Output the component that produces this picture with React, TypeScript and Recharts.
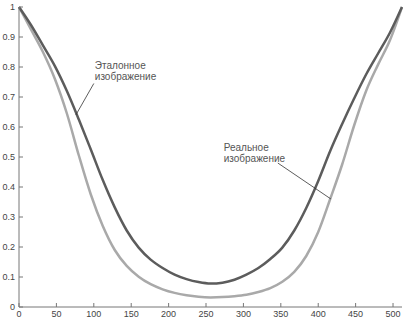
import React from 'react';
import { LineChart, Line, XAxis, YAxis, ReferenceLine, ReferenceDot } from 'recharts';

// pixel position along the line (0..512)
const positions = [
  0, 16, 32, 48, 64, 80, 96, 112, 128, 144, 160, 176, 192, 208, 224, 240, 256,
  272, 288, 304, 320, 336, 352, 368, 384, 400, 416, 432, 448, 464, 480, 496, 512,
];

// "Эталонное изображение" (dark curve)
const referenceCurve = [
  1.0, 0.94, 0.872, 0.803, 0.72, 0.625, 0.525, 0.423, 0.332, 0.255, 0.198, 0.158, 0.13,
  0.108, 0.093, 0.083, 0.078, 0.081, 0.091, 0.108, 0.13, 0.16, 0.198, 0.255, 0.33,
  0.42, 0.52, 0.61, 0.695, 0.775, 0.845, 0.915, 1.0,
];

// "Реальное изображение" (light curve)
const realCurve = [
  1.0, 0.925, 0.85, 0.76, 0.645, 0.505, 0.375, 0.27, 0.19, 0.137, 0.101, 0.076, 0.059,
  0.047, 0.039, 0.034, 0.032, 0.033, 0.036, 0.041, 0.05, 0.063, 0.084, 0.117, 0.17,
  0.25, 0.36, 0.475, 0.605, 0.72, 0.808, 0.89, 1.0,
];

const xTicks = [0, 50, 100, 150, 200, 250, 300, 350, 400, 450, 500];
const yTicks = [0, 0.1, 0.2, 0.3, 0.4, 0.5, 0.6, 0.7, 0.8, 0.9, 1];

const data = positions.map((x, i) => ({ x, ref: referenceCurve[i], real: realCurve[i] }));

const font = '"Liberation Sans", Arial, sans-serif';
const tickStyle = { fontSize: 9, fill: '#444', fontFamily: font };

const NoteLabel = (props: any) => {
  const { viewBox, lines } = props;
  return (
    <text x={viewBox.x} y={viewBox.y} fontSize={10} fill="#555" fontFamily={font}>
      {lines.map((l: string, i: number) => (
        <tspan key={i} x={viewBox.x} dy={i === 0 ? 0 : 11}>
          {l}
        </tspan>
      ))}
    </text>
  );
};

export default function App() {
  return (
    <div style={{ position: 'absolute', left: 0, top: 0, background: '#fff' }}>
      <LineChart width={403} height={326} data={data} margin={{ top: 7, right: 1, bottom: 0, left: 0 }}>
        <XAxis
          dataKey="x"
          type="number"
          domain={[0, 512]}
          ticks={xTicks}
          height={19}
          tickSize={-4}
          tickMargin={8}
          tick={tickStyle}
          stroke="#777"
          interval={0}
        />
        <XAxis
          xAxisId="top"
          orientation="top"
          dataKey="x"
          type="number"
          domain={[0, 512]}
          ticks={xTicks}
          height={0}
          tickSize={-4}
          tickFormatter={() => ''}
          stroke="#777"
          interval={0}
        />
        <YAxis
          type="number"
          domain={[0, 1]}
          ticks={yTicks}
          width={19}
          tickSize={-4}
          tickMargin={8}
          tick={tickStyle}
          stroke="#777"
          interval={0}
        />
        <YAxis
          yAxisId="right"
          orientation="right"
          type="number"
          domain={[0, 1]}
          ticks={yTicks}
          width={0}
          tickSize={-4}
          tickFormatter={() => ''}
          stroke="#777"
          interval={0}
        />
        <Line
          dataKey="real"
          type="monotone"
          stroke="#a9a9a9"
          strokeWidth={2.5}
          dot={false}
          isAnimationActive={false}
        />
        <Line
          dataKey="ref"
          type="monotone"
          stroke="#5c5c5c"
          strokeWidth={2.5}
          dot={false}
          isAnimationActive={false}
        />
        <ReferenceLine segment={[{ x: 100, y: 0.745 }, { x: 76, y: 0.64 }]} stroke="#333" strokeWidth={0.8} />
        <ReferenceLine segment={[{ x: 346, y: 0.48 }, { x: 417, y: 0.36 }]} stroke="#333" strokeWidth={0.8} />
        <ReferenceDot
          x={102.7}
          y={0.79}
          r={1}
          fill="none"
          stroke="none"
          label={<NoteLabel lines={['Эталонное', 'изображение']} />}
        />
        <ReferenceDot
          x={275}
          y={0.517}
          r={1}
          fill="none"
          stroke="none"
          label={<NoteLabel lines={['Реальное', 'изображение']} />}
        />
      </LineChart>
    </div>
  );
}
